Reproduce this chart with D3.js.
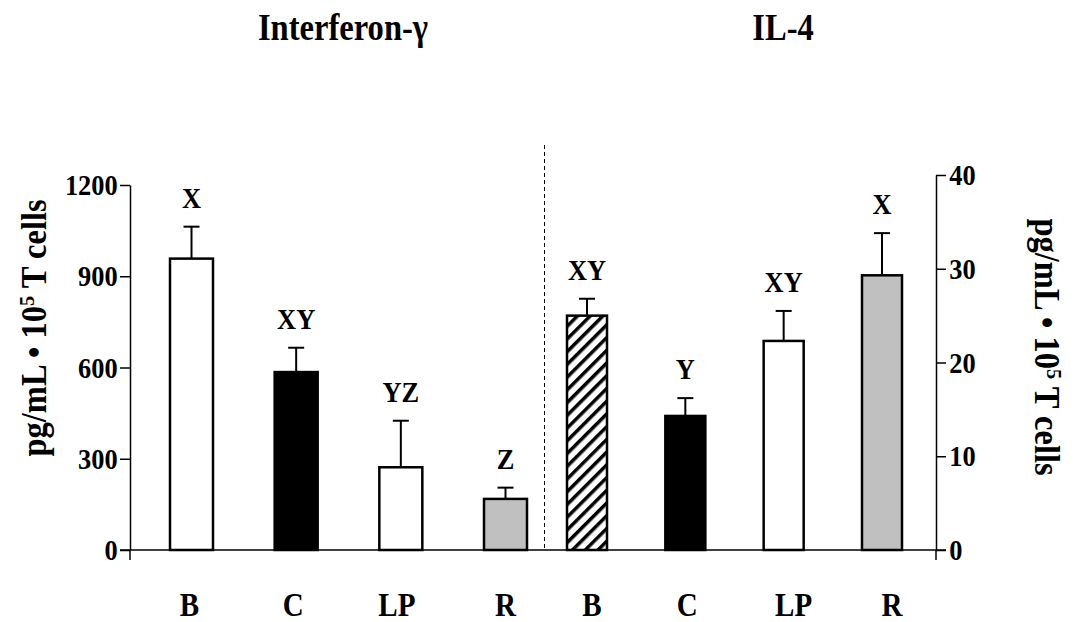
<!DOCTYPE html>
<html>
<head>
<meta charset="utf-8">
<script src="https://cdn.jsdelivr.net/npm/d3@7"></script>
<style>
  body { margin: 0; background: #fff; }
  text { font-family: "Liberation Serif", "Times New Roman", serif; font-weight: bold; fill: #000; }
</style>
</head>
<body>
<svg width="1081" height="622"></svg>
<script>
// data
var groups = ["B", "C", "LP", "R"];

// Interferon-gamma (left axis, pg/mL)
var ifnMean = [958, 585, 272, 168];
var ifnErr  = [1063, 665, 425, 205];
var ifnLetters = ["X", "XY", "YZ", "Z"];
var ifnFills = ["white", "black", "white", "#c0c0c0"];

// IL-4 (right axis, pg/mL)
var il4Mean = [25.0, 14.3, 22.3, 29.3];
var il4Err  = [26.8, 16.2, 25.5, 33.8];
var il4Letters = ["XY", "Y", "XY", "X"];
var il4Fills = ["url(#hatch)", "black", "white", "#c0c0c0"];

var leftTicks = [0, 300, 600, 900, 1200];
var rightTicks = [0, 10, 20, 30, 40];

var svg = d3.select("svg"),
  width = +svg.attr("width"),
  height = +svg.attr("height");

var squeeze = 0.88; // the original type is a narrow Times

// hatch pattern for the IL-4 B bar
var defs = svg.append("defs");
defs.append("pattern")
  .attr("id", "hatch")
  .attr("patternUnits", "userSpaceOnUse")
  .attr("width", 9).attr("height", 9)
  .attr("patternTransform", "rotate(45)")
  .call(function (p) {
    p.append("rect").attr("width", 9).attr("height", 9).attr("fill", "white");
    p.append("rect").attr("width", 3.5).attr("height", 9).attr("fill", "black");
  });

// scales
var baseY = 550;
var yL = d3.scaleLinear().domain([0, 1200]).range([baseY, 185]);
var yR = d3.scaleLinear().domain([0, 40]).range([baseY, 175]);
var xL = d3.scalePoint().domain(groups).range([191.5, 505.5]);
var xR = d3.scalePoint().domain(groups).range([587, 882]);
var axisLX = 130, axisRX = 936;

function place(x, y) {
  return "translate(" + x + "," + y + ") scale(" + squeeze + ",1)";
}

function panel(x, y, mean, err, letters, fills, barW, catShift) {
  var g = svg.append("g");
  var rows = groups.map(function (k, i) {
    return { k: k, v: mean[i], e: err[i], lab: letters[i], fill: fills[i] };
  });

  // error bars (upper only)
  g.selectAll(".err").data(rows).enter().append("line")
    .attr("x1", function (d) { return x(d.k); })
    .attr("x2", function (d) { return x(d.k); })
    .attr("y1", function (d) { return y(d.v); })
    .attr("y2", function (d) { return y(d.e); })
    .attr("stroke", "black").attr("stroke-width", 2);
  g.selectAll(".cap").data(rows).enter().append("line")
    .attr("x1", function (d) { return x(d.k) - 8; })
    .attr("x2", function (d) { return x(d.k) + 8; })
    .attr("y1", function (d) { return y(d.e); })
    .attr("y2", function (d) { return y(d.e); })
    .attr("stroke", "black").attr("stroke-width", 2);

  // bars
  g.selectAll(".bar").data(rows).enter().append("rect")
    .attr("x", function (d) { return x(d.k) - barW / 2; })
    .attr("y", function (d) { return y(d.v); })
    .attr("width", barW)
    .attr("height", function (d) { return baseY - y(d.v); })
    .attr("fill", function (d) { return d.fill; })
    .attr("stroke", "black").attr("stroke-width", 2.5);

  // significance letters
  g.selectAll(".lab").data(rows).enter().append("text")
    .attr("transform", function (d) { return place(x(d.k), y(d.e) - 19); })
    .attr("text-anchor", "middle")
    .style("font-size", "30px")
    .text(function (d) { return d.lab; });

  // category labels
  g.selectAll(".cat").data(rows).enter().append("text")
    .attr("transform", function (d, i) { return place(x(d.k) + catShift[i], 616); })
    .attr("text-anchor", "middle")
    .style("font-size", "33px")
    .text(function (d) { return d.k; });
}

panel(xL, yL, ifnMean, ifnErr, ifnLetters, ifnFills, 43, [-2, -3, -4, 0]);
panel(xR, yR, il4Mean, il4Err, il4Letters, il4Fills, 40, [5, 2, 10, 10]);

// baseline across both panels
svg.append("line")
  .attr("x1", axisLX - 10).attr("x2", axisRX + 10)
  .attr("y1", baseY).attr("y2", baseY)
  .attr("stroke", "black").attr("stroke-width", 1.5);

// left axis
var gl = svg.append("g")
  .attr("transform", "translate(" + axisLX + ",0)")
  .call(d3.axisLeft(yL).tickValues(leftTicks).tickFormat(d3.format("d"))
    .tickSize(10).tickSizeOuter(0).tickPadding(4));
gl.select(".domain").attr("stroke-width", 1.5);
gl.selectAll(".tick line").attr("stroke-width", 1.5);
gl.selectAll(".tick text").style("font-size", "30px").attr("font-family", null)
  .attr("transform", "scale(" + squeeze + ",1)");
gl.append("line").attr("y1", baseY).attr("y2", baseY + 10).attr("stroke", "black").attr("stroke-width", 1.5);

// right axis
var gr = svg.append("g")
  .attr("transform", "translate(" + axisRX + ",0)")
  .call(d3.axisRight(yR).tickValues(rightTicks).tickFormat(d3.format("d"))
    .tickSize(10).tickSizeOuter(0).tickPadding(5));
gr.select(".domain").attr("stroke-width", 1.5);
gr.selectAll(".tick line").attr("stroke-width", 1.5);
gr.selectAll(".tick text").style("font-size", "30px").attr("font-family", null)
  .attr("transform", "scale(" + squeeze + ",1)");
gr.append("line").attr("y1", baseY).attr("y2", baseY + 10).attr("stroke", "black").attr("stroke-width", 1.5);

// dashed divider
svg.append("line")
  .attr("x1", 544.5).attr("x2", 544.5)
  .attr("y1", 145).attr("y2", baseY)
  .attr("stroke", "black").attr("stroke-width", 1)
  .attr("stroke-dasharray", "4,3");

// panel titles
svg.append("text").attr("transform", place(343, 40)).attr("text-anchor", "middle")
  .style("font-size", "37px").text("Interferon-γ");
svg.append("text").attr("transform", place(783, 40)).attr("text-anchor", "middle")
  .style("font-size", "37px").text("IL-4");

// axis titles
function yTitle(x, y, rot) {
  var t = svg.append("text")
    .attr("transform", "translate(" + x + "," + y + ") rotate(" + rot + ") scale(0.93,1)")
    .attr("text-anchor", "middle")
    .style("font-size", "35px");
  t.append("tspan").text("pg/mL • 10");
  t.append("tspan").attr("dy", -12).style("font-size", "22px").text("5");
  t.append("tspan").attr("dy", 12).text(" T cells");
}
yTitle(46, 328, -90);
yTitle(1035, 347, 90);
</script>
</body>
</html>
